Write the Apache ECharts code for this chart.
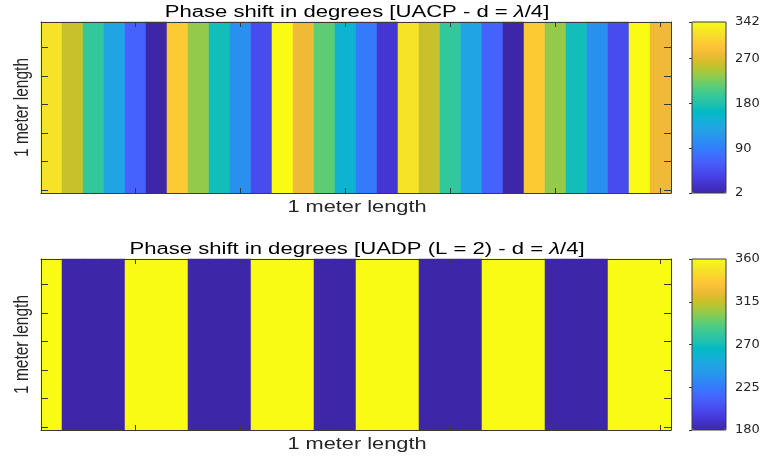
<!DOCTYPE html>
<html>
<head>
<meta charset="utf-8">
<style type="text/css">
html, body {margin: 0; padding: 0; background: #fff;}
#chart {width: 769px; height: 456px;}
</style>
<script src="https://cdn.jsdelivr.net/npm/echarts@6/dist/echarts.min.js"></script>
</head>
<body>
<div id="chart"></div>
<script>
// 30 x 30 grid, phase is constant along each column, so one band of cells per column
var columns = Array.from({length: 30}, function (_, i) { return String(i + 1); });
var rows = Array.from({length: 30}, function (_, i) { return String(i + 1); });
var band = ['all rows'];

// phase per column, degrees
var uacpPhase = [321, 257, 193, 130, 66, 2, 300, 236, 172, 108, 45, 342, 278, 215, 151,
                 87, 23, 321, 257, 193, 130, 66, 2, 300, 236, 172, 108, 45, 342, 278];
var uadpPhase = [360, 180, 180, 180, 360, 360, 360, 180, 180, 180, 360, 360, 360, 180, 180,
                 360, 360, 360, 180, 180, 180, 360, 360, 360, 180, 180, 180, 360, 360, 360];

var uacpTicks = [2, 90, 180, 270, 342];
var uadpTicks = [180, 225, 270, 315, 360];

var parula = ['#3E26A8', '#4332CB', '#4741E5', '#4852F4', '#4563FD', '#3875FE', '#2E87F7',
              '#2797EB', '#20A5E3', '#12B1D6', '#02BAC3', '#24C1AE', '#37C897', '#57CC7A',
              '#81CC59', '#ABC739', '#D1BF27', '#EFBA36', '#FEC338', '#F9D62D', '#F5E924', '#F9FB14'];

function cells(values) {
    return values.map(function (v, ci) { return [ci, 0, v]; });
}

var FONT = '"Liberation Sans", Arial, Helvetica, sans-serif';
var AXIS = '#3a3a3a';
var every5 = function (idx) { return (idx + 1) % 5 === 0; };

function catAxis(type, grid, pos, len) {
    var a = {
        type: 'category', gridIndex: grid, position: pos,
        data: type === 'x' ? columns : rows,
        z: 5,
        axisLine: {show: true, lineStyle: {color: AXIS, width: 1}},
        axisTick: {show: true, inside: true, length: len, alignWithLabel: true, interval: every5,
                   lineStyle: {color: AXIS}},
        axisLabel: {show: false},
        splitLine: {show: false}
    };
    if (type === 'y') a.inverse = true;
    return a;
}

function bandAxis(grid) {
    return {type: 'category', gridIndex: grid, data: band, show: false};
}

function barAxes(grid, min, max, ticks) {
    return {
        x: {type: 'value', gridIndex: grid, min: 0, max: 1, show: false},
        y: {type: 'value', gridIndex: grid, position: 'right', min: min, max: max, z: 5,
            axisLine: {show: false},
            axisTick: {show: true, inside: true, length: 3, customValues: ticks, lineStyle: {color: AXIS}},
            axisLabel: {show: true, customValues: ticks, margin: 9, color: '#262626',
                        fontSize: 13, fontFamily: '"DejaVu Sans", sans-serif'},
            splitLine: {show: false}}
    };
}

var bar1 = barAxes(2, 2, 342, uacpTicks);
var bar2 = barAxes(3, 180, 360, uadpTicks);

function label(text, x, y, opts) {
    opts = opts || {};
    return {
        type: 'text', x: x, y: y,
        rotation: opts.rotation || 0,
        scaleX: opts.sx || 1, scaleY: opts.sy || 1,
        style: {
            text: text, fill: opts.color || '#000',
            fontSize: opts.size || 16, fontFamily: FONT,
            align: 'center', verticalAlign: 'middle',
            textAlign: 'center', textVerticalAlign: 'middle',
            rich: {lam: {fontStyle: 'italic', fontSize: opts.size || 16, fontFamily: FONT, fill: '#000'}}
        }
    };
}

var chart = echarts.init(document.getElementById('chart'), null, {renderer: 'canvas'});

chart.setOption({
    backgroundColor: '#fff',
    animation: false,
    grid: [
        {left: 41, top: 22, width: 630, height: 171},
        {left: 41, top: 259, width: 630, height: 171},
        {left: 692, top: 22, width: 34, height: 171, show: true, z: 10,
         borderColor: AXIS, borderWidth: 1, backgroundColor: 'transparent'},
        {left: 692, top: 259, width: 34, height: 171, show: true, z: 10,
         borderColor: AXIS, borderWidth: 1, backgroundColor: 'transparent'}
    ],
    xAxis: [
        catAxis('x', 0, 'bottom', 5), catAxis('x', 0, 'top', 5),
        catAxis('x', 1, 'bottom', 5), catAxis('x', 1, 'top', 5),
        bar1.x, bar2.x
    ],
    yAxis: [
        catAxis('y', 0, 'left', 7), catAxis('y', 0, 'right', 7),
        catAxis('y', 1, 'left', 7), catAxis('y', 1, 'right', 7),
        bar1.y, bar2.y,
        bandAxis(0), bandAxis(1)
    ],
    visualMap: [
        {type: 'continuous', seriesIndex: 0, min: 2, max: 342, orient: 'vertical',
         left: 692, top: 22, itemWidth: 34, itemHeight: 171, padding: 0,
         calculable: false, hoverLink: false, z: 1, inRange: {color: parula}},
        {type: 'continuous', seriesIndex: 1, min: 180, max: 360, orient: 'vertical',
         left: 692, top: 259, itemWidth: 34, itemHeight: 171, padding: 0,
         calculable: false, hoverLink: false, z: 1, inRange: {color: parula}}
    ],
    series: [
        {type: 'heatmap', xAxisIndex: 0, yAxisIndex: 6, data: cells(uacpPhase),
         emphasis: {disabled: true}},
        {type: 'heatmap', xAxisIndex: 2, yAxisIndex: 7, data: cells(uadpPhase),
         emphasis: {disabled: true}}
    ],
    graphic: [
        label('Phase shift in degrees [UACP - d = {lam|λ}/4]', 357, 12.7, {sx: 1.38}),
        label('Phase shift in degrees [UADP (L = 2) - d = {lam|λ}/4]', 357, 249.4, {sx: 1.38}),
        label('1 meter length', 357, 207.5, {sx: 1.36, color: '#262626'}),
        label('1 meter length', 357, 444.5, {sx: 1.36, color: '#262626'}),
        label('1 meter length', 22, 107.5, {rotation: Math.PI / 2, sy: 1.36, size: 15.5, color: '#262626'}),
        label('1 meter length', 22, 344.5, {rotation: Math.PI / 2, sy: 1.36, size: 15.5, color: '#262626'})
    ]
});
</script>
</body>
</html>
